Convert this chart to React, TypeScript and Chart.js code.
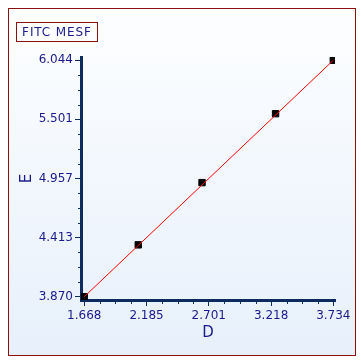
import React, { useEffect, useRef } from 'react';
import { Chart, registerables } from 'chart.js';

Chart.register(...registerables);

// ---- data ----
const xValues = [1.668, 2.116, 2.645, 3.255, 3.734];
const yValues = [3.870, 4.347, 4.919, 5.553, 6.044];
const fitX = [1.668, 3.734];
const fitY = [3.870, 6.044];
const xTicks = [1.668, 2.185, 2.701, 3.218, 3.734];
const yTicks = [3.870, 4.413, 4.957, 5.501, 6.044];
const xRange = [1.641, 3.748];
const yRange = [3.840, 6.074];
const chartTitle = 'FITC MESF';
const xTitle = 'D';
const yTitle = 'E';

const AXIS = '#0d2b5c';
const TEXT = '#1a1a8e';
const FRAME = '#8b1010';
const FONT = "'DejaVu Sans', Verdana, sans-serif";

function minorValues(majors: number[]): number[] {
  const out: number[] = [];
  for (let i = 0; i < majors.length - 1; i++) {
    const a = majors[i];
    const b = majors[i + 1];
    for (let k = 1; k < 4; k++) out.push(a + ((b - a) * k) / 4);
  }
  return out;
}

const minorTicksPlugin = {
  id: 'minorTicks',
  afterDraw(chart: any) {
    const { ctx, chartArea, scales } = chart;
    ctx.save();
    ctx.strokeStyle = AXIS;
    ctx.lineWidth = 1;
    ctx.beginPath();
    for (const v of minorValues(xTicks)) {
      const px = Math.round(scales.x.getPixelForValue(v)) + 0.5;
      ctx.moveTo(px, chartArea.bottom);
      ctx.lineTo(px, chartArea.bottom + 4);
    }
    for (const v of minorValues(yTicks)) {
      const py = Math.round(scales.y.getPixelForValue(v)) + 0.5;
      ctx.moveTo(chartArea.left - 3, py);
      ctx.lineTo(chartArea.left, py);
    }
    ctx.stroke();
    ctx.restore();
  },
};

export default function App() {
  const canvasRef = useRef<HTMLCanvasElement | null>(null);

  useEffect(() => {
    const canvas = canvasRef.current;
    if (!canvas) return;
    const chart = new Chart(canvas, {
      type: 'scatter',
      data: {
        datasets: [
          {
            type: 'line',
            data: fitX.map((x, i) => ({ x, y: fitY[i] })),
            borderColor: '#ff0000',
            borderWidth: 1,
            pointRadius: 0,
            fill: false,
            showLine: true,
          } as any,
          {
            type: 'scatter',
            data: xValues.map((x, i) => ({ x, y: yValues[i] })),
            pointStyle: 'rect',
            pointRadius: 4.5,
            backgroundColor: '#000000',
            borderColor: '#000000',
            borderWidth: 1,
          },
        ],
      },
      options: {
        responsive: false,
        animation: false,
        devicePixelRatio: 1,
        layout: { padding: { left: 0, right: 20, top: 48, bottom: 0 } },
        plugins: { legend: { display: false }, tooltip: { enabled: false } },
        scales: {
          x: {
            type: 'linear',
            position: 'bottom',
            min: xRange[0],
            max: xRange[1],
            afterBuildTicks: (s: any) => {
              s.ticks = xTicks.map((v) => ({ value: v }));
            },
            afterFit: (s: any) => {
              s.height = 55;
            },
            ticks: {
              autoSkip: false,
              maxRotation: 0,
              padding: 3,
              color: TEXT,
              font: { family: FONT, size: 12 },
              callback: (v: any) => Number(v).toFixed(3),
            },
            grid: {
              display: true,
              drawOnChartArea: false,
              drawTicks: true,
              tickLength: 6,
              tickColor: AXIS,
              tickWidth: 1,
            },
            border: { display: true, color: AXIS, width: 3 },
            title: {
              display: true,
              text: xTitle,
              color: TEXT,
              font: { family: FONT, size: 15 },
              padding: { top: 0, bottom: 13 },
            },
          },
          y: {
            type: 'linear',
            position: 'left',
            min: yRange[0],
            max: yRange[1],
            afterBuildTicks: (s: any) => {
              s.ticks = yTicks.map((v) => ({ value: v }));
            },
            afterFit: (s: any) => {
              s.width = 72;
            },
            ticks: {
              autoSkip: false,
              padding: 2,
              color: TEXT,
              font: { family: FONT, size: 12 },
              callback: (v: any) => Number(v).toFixed(3),
            },
            grid: {
              display: true,
              drawOnChartArea: false,
              drawTicks: true,
              tickLength: 6,
              tickColor: AXIS,
              tickWidth: 1,
            },
            border: { display: true, color: AXIS, width: 3 },
            title: {
              display: true,
              text: yTitle,
              color: TEXT,
              font: { family: FONT, size: 15 },
              padding: { top: 9, bottom: 0 },
            },
          },
        },
      },
      plugins: [minorTicksPlugin],
    } as any);
    return () => chart.destroy();
  }, []);

  return (
    <div
      style={{
        position: 'relative',
        width: 346,
        height: 346,
        border: `1px solid ${FRAME}`,
        background: 'linear-gradient(to bottom, #fdfeff 0%, #e7f0fb 100%)',
      }}
    >
      <canvas
        ref={canvasRef}
        width={346}
        height={346}
        style={{ position: 'absolute', left: 0, top: 0, width: 346, height: 346 }}
      />
      <div
        style={{
          position: 'absolute',
          left: 7,
          top: 13,
          width: 82,
          height: 20,
          boxSizing: 'border-box',
          border: `1px solid ${FRAME}`,
          color: TEXT,
          fontFamily: FONT,
          fontSize: 12,
          lineHeight: '18px',
          textAlign: 'center',
          letterSpacing: '0.9px',
          whiteSpace: 'nowrap',
        }}
      >
        {chartTitle}
      </div>
    </div>
  );
}
